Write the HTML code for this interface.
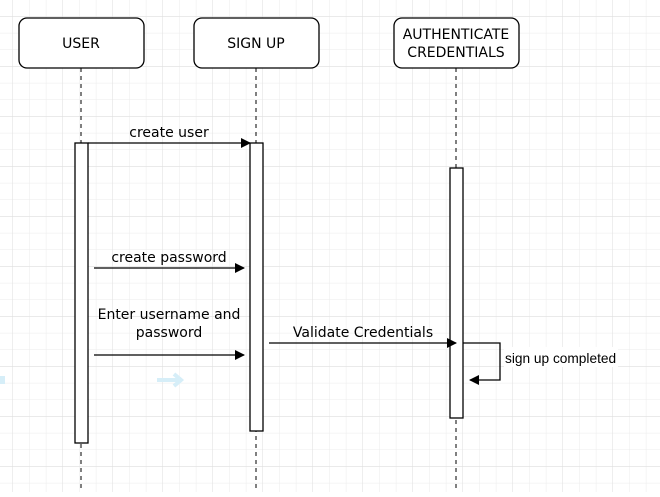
<!DOCTYPE html><html><head><style>body{margin:0}</style></head><body>
<svg width="660" height="492" xmlns="http://www.w3.org/2000/svg" font-family="DejaVu Sans, sans-serif">
<defs>
<pattern id="g" x="13" y="0" width="16.667" height="16.667" patternUnits="userSpaceOnUse"><path d="M16.667 0V16.667H0" fill="none" stroke="#ebebeb" stroke-width="1"/></pattern>
<pattern id="G" x="13" y="16.667" width="50" height="50" patternUnits="userSpaceOnUse"><path d="M50 0V50H0" fill="none" stroke="#dedede" stroke-width="1"/></pattern>
<marker id="a" markerWidth="10" markerHeight="10" refX="9" refY="5" orient="auto" markerUnits="userSpaceOnUse"><path d="M0,0L10,5L0,10z" fill="#000"/></marker>
</defs>
<rect width="660" height="492" fill="#fff"/>
<rect width="660" height="492" fill="url(#g)"/>
<rect width="660" height="492" fill="url(#G)"/>
<path d="M157 380H180M174 374L181 380L174 386" stroke="#d6eef8" stroke-width="4" fill="none"/>
<rect x="0" y="376" width="5" height="8" fill="#d6eef8"/>
<g stroke="#000" fill="none" stroke-dasharray="4,4">
<path d="M81 68V492M256 68V492M456 68V492"/></g>
<g stroke="#000" fill="#fff" stroke-width="1.3">
<rect x="19" y="18" width="125" height="50" rx="8"/>
<rect x="194" y="18" width="125" height="50" rx="8"/>
<rect x="394" y="18" width="125" height="50" rx="8"/>
<rect x="75" y="143" width="13" height="300"/>
<rect x="250" y="143" width="13" height="288"/>
<rect x="450" y="168" width="13" height="250"/>
</g>
<g font-size="14" text-anchor="middle" fill="#000">
<text x="81" y="48">USER</text>
<text x="256" y="48">SIGN UP</text>
<text x="456" y="39">AUTHENTICATE</text>
<text x="456" y="57">CREDENTIALS</text>
<text x="169" y="137">create user</text>
<text x="169" y="262">create password</text>
<text x="169" y="319">Enter username and</text>
<text x="169" y="337">password</text>
<text x="363" y="337">Validate Credentials</text>
</g>
<g stroke="#000" stroke-width="1.3" fill="none" marker-end="url(#a)">
<path d="M88 143H250"/><path d="M94 268H244"/><path d="M94 355H244"/><path d="M269 343H456"/>
<path d="M463 343H500V380H470"/>
</g>
<rect x="504" y="347" width="114" height="20" fill="#fff"/>
<text x="505" y="363" font-family="Liberation Sans, sans-serif" font-size="13.7">sign up completed</text>
</svg>
</body></html>
